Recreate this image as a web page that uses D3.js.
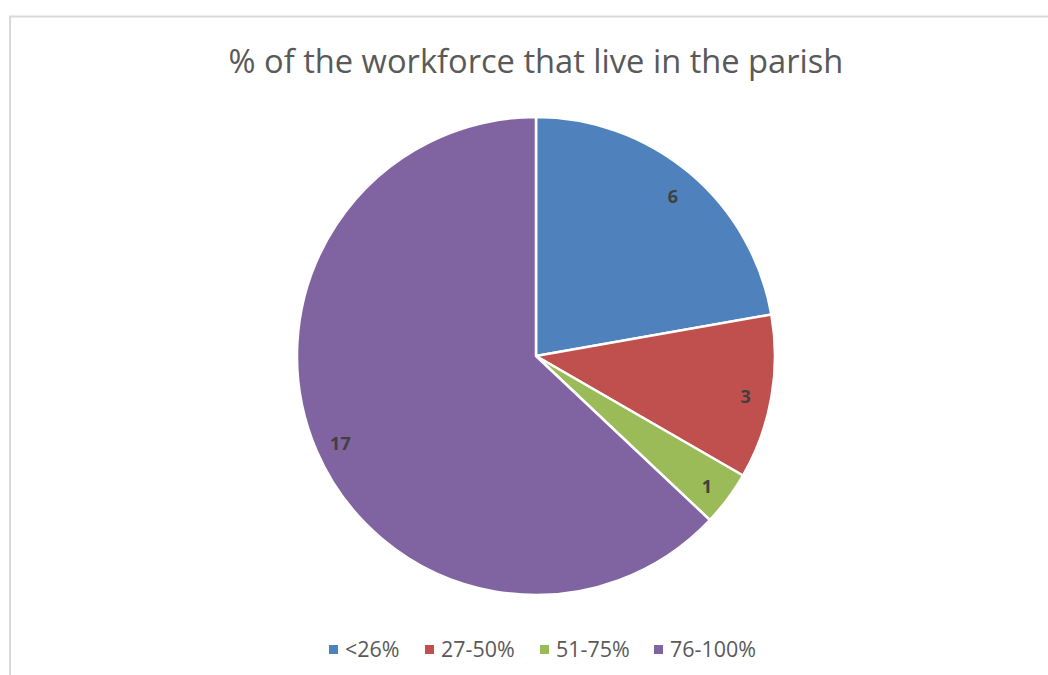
<!DOCTYPE html>
<html>
<head>
<meta charset="utf-8">
<script src="https://cdn.jsdelivr.net/npm/d3@7"></script>
<style>
  html, body { margin: 0; padding: 0; background: #fff; }
  svg { display: block; }
</style>
</head>
<body>
<svg id="chart" width="1048" height="675"></svg>
<script>
const categories = ["<26%", "27-50%", "51-75%", "76-100%"];
const values = [6, 3, 1, 17];
const colors = ["#4f81bd", "#c0504d", "#9bbb59", "#8064a2"];
const title = "% of the workforce that live in the parish";

const svg = d3.select("#chart");
const FONT = "'Open Sans', 'Liberation Sans', sans-serif";

// chart border
svg.append("rect")
  .attr("x", 10).attr("y", 16.5)
  .attr("width", 1060).attr("height", 700)
  .attr("fill", "#fff").attr("stroke", "#d9d9d9").attr("stroke-width", 2);

// title, fitted to reference width
const t = svg.append("text")
  .attr("x", 536).attr("y", 73)
  .attr("text-anchor", "middle")
  .attr("font-family", FONT)
  .attr("font-size", 28)
  .attr("fill", "#595959")
  .text(title);
{
  const w = t.node().getComputedTextLength();
  t.attr("font-size", 28 * 615 / w);
}

// pie
const cx = 536, cy = 356, R = 239;
const data = categories.map((c, i) => ({ cat: c, value: values[i], color: colors[i] }));
const pie = d3.pie().value(d => d.value).sort(null);
const arcs = pie(data);
const arc = d3.arc().innerRadius(0).outerRadius(R);
const labelArc = d3.arc().innerRadius(213).outerRadius(213);

const g = svg.append("g").attr("transform", `translate(${cx},${cy})`);
g.selectAll("path.slice").data(arcs).join("path")
  .attr("class", "slice")
  .attr("d", arc)
  .attr("fill", d => d.data.color)
  .attr("stroke", "#fff")
  .attr("stroke-width", 2.5)
  .attr("stroke-linejoin", "round");

g.selectAll("text.lbl").data(arcs).join("text")
  .attr("class", "lbl")
  .attr("transform", d => { const c = labelArc.centroid(d); return `translate(${c[0]},${c[1] + 3})`; })
  .attr("text-anchor", "middle")
  .attr("dominant-baseline", "central")
  .attr("font-family", FONT)
  .attr("font-weight", "bold")
  .attr("font-size", 18)
  .attr("fill", "#404040")
  .text(d => d.data.value);

// legend
const legendX = [329, 425, 540, 654];
const lg = svg.append("g");
let legendSize = 18;
data.forEach((d, i) => {
  lg.append("rect")
    .attr("x", legendX[i]).attr("y", 645)
    .attr("width", 9).attr("height", 9)
    .attr("fill", d.color);
  const tx = lg.append("text")
    .attr("x", legendX[i] + 16).attr("y", 657)
    .attr("font-family", FONT)
    .attr("font-size", 18)
    .attr("fill", "#595959")
    .text(d.cat);
  if (i === data.length - 1) {
    legendSize = 18 * 86 / tx.node().getComputedTextLength();
  }
});
lg.selectAll("text").attr("font-size", legendSize);
</script>
</body>
</html>
